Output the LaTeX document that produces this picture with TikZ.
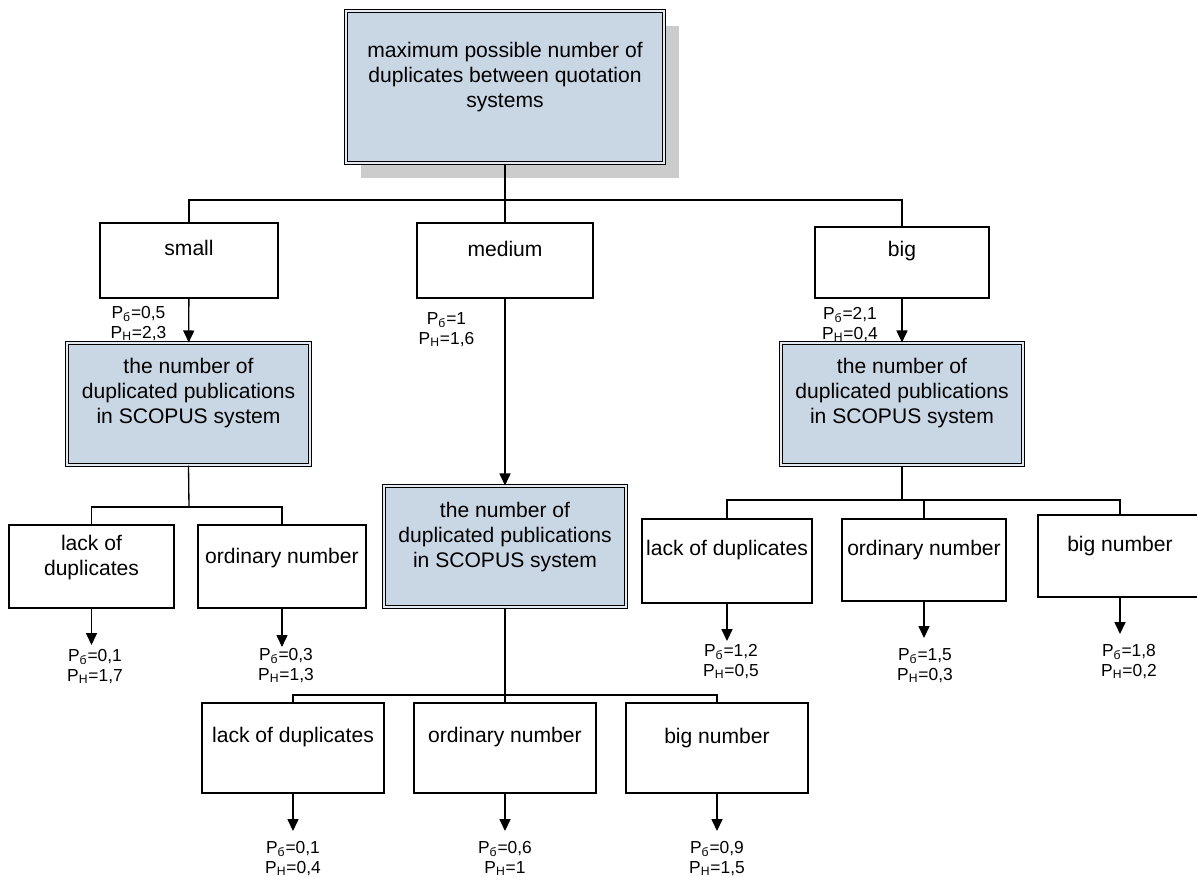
\documentclass[tikz,border=0pt]{standalone}
\usepackage{fontspec}
\setmainfont{Liberation Sans}
\usetikzlibrary{arrows.meta,fit,shadows}
\definecolor{boxblue}{RGB}{201,214,228}
\definecolor{shadowgray}{RGB}{204,204,204}
\newcommand\TreeBox[6]{%
    \node[#1, fit={#3 #4}] (#2) {};
    \node[boxtext] (#2Text) at (#2.north |- 0,#5) {#6};
}
\newcommand\PVal[2]{P\textsubscript{б}=#1\\P\textsubscript{Н}=#2}
\tikzset{
    tree/.style={line width=0.75pt},
    arrow/.style={tree, -{Triangle[length=6.8pt, width=6.3pt]}},
    plainbox/.style={draw, line width=0.8pt, fill=white, inner sep=0pt},
    scopusbox/.style={draw, line width=0.65pt, double=boxblue!50!white, double distance=1.3pt, fill=boxblue, inner sep=0pt},
    boxtext/.style={anchor=north, align=center, inner sep=0pt, font=\fontsize{12}{14.2}\selectfont},
    param/.style={anchor=north, align=center, inner sep=0pt, font=\fontsize{9.9}{11.3}\selectfont},
}
\begin{document}
\begin{tikzpicture}[x=0.02cm, y=-0.02cm]
    \useasboundingbox (0,0) rectangle (1197,876);
    % root
    \TreeBox{scopusbox, drop shadow={shadow xshift=0.3cm, shadow yshift=-0.3cm, fill=shadowgray, opacity=1}}{root}{(346,11)}{(664,163)}{42}{maximum possible number of\\duplicates between quotation\\systems}
    % first level
    \TreeBox{plainbox}{small}{(100,223)}{(278,298)}{240}{small}
    \TreeBox{plainbox}{medium}{(417,223)}{(593,298)}{241}{medium}
    \TreeBox{plainbox}{big}{(815,227)}{(989,298)}{241}{big}
    \TreeBox{scopusbox}{scopusA}{(67,343)}{(310,465)}{358}{the number of\\duplicated publications\\in SCOPUS system}
    \TreeBox{scopusbox}{scopusB}{(384,486)}{(626,607)}{502}{the number of\\duplicated publications\\in SCOPUS system}
    \TreeBox{scopusbox}{scopusC}{(781,343)}{(1023,465)}{358}{the number of\\duplicated publications\\in SCOPUS system}
    % leaves
    \TreeBox{plainbox}{leftLack}{(9,525)}{(174,608)}{535}{lack of\\duplicates}
    \TreeBox{plainbox}{leftOrd}{(198,525)}{(366,608)}{548}{ordinary number}
    \TreeBox{plainbox}{botLack}{(202,703)}{(384,793)}{727}{lack of duplicates}
    \TreeBox{plainbox}{botOrd}{(414,703)}{(596,793)}{727}{ordinary number}
    \TreeBox{plainbox}{botBig}{(626,703)}{(808,793)}{728}{big number}
    \TreeBox{plainbox}{rightLack}{(642,519)}{(812,603)}{540}{lack of duplicates}
    \TreeBox{plainbox}{rightOrd}{(842,519)}{(1006,601)}{540}{ordinary number}
    \TreeBox{plainbox}{rightBig}{(1038,515)}{(1202,597)}{536}{big number}
    % values
    \node[param] (smallP) at (138.5,306) {\PVal{0,5}{2,3}};
    \node[param] (mediumP) at (446.5,312) {\PVal{1}{1,6}};
    \node[param] (bigP) at (850,307) {\PVal{2,1}{0,4}};
    \node[param] (leftLackP) at (95,649) {\PVal{0,1}{1,7}};
    \node[param] (leftOrdP) at (286,648) {\PVal{0,3}{1,3}};
    \node[param] (botLackP) at (293,841) {\PVal{0,1}{0,4}};
    \node[param] (botOrdP) at (505,841) {\PVal{0,6}{1}};
    \node[param] (botBigP) at (717,841) {\PVal{0,9}{1,5}};
    \node[param] (rightLackP) at (731,644) {\PVal{1,2}{0,5}};
    \node[param] (rightOrdP) at (925,648) {\PVal{1,5}{0,3}};
    \node[param] (rightBigP) at (1129,644) {\PVal{1,8}{0,2}};
    % connectors
    \coordinate (busTop) at (505,200);
    \coordinate (busA) at (189,507);
    \coordinate (busB) at (505,695);
    \coordinate (busC) at (902,500);
    \draw[tree] (root.south) -- (medium.north);
    \draw[tree] (small.north) |- (busTop) -| (big.north);
    \draw[tree] (scopusA.south) -- (busA);
    \draw[tree] (leftLack.north) |- (busA) -| (leftOrd.north);
    \draw[tree] (scopusB.south) -- (botOrd.north);
    \draw[tree] (botLack.north) |- (busB) -| (botBig.north);
    \draw[tree] (scopusC.south) -- (busC);
    \draw[tree] (rightLack.north) |- (busC) -| (rightBig.north);
    \draw[tree] (rightOrd.north) -- (rightOrd.north |- busC);
    \draw[arrow] (small) -- (scopusA);
    \draw[arrow] (medium) -- (scopusB);
    \draw[arrow] (big) -- (scopusC);
    \foreach \leaf/\val/\gap in {leftLack/leftLackP/2.3pt, leftOrd/leftOrdP/0.6pt,
        botLack/botLackP/5.7pt, botOrd/botOrdP/5.7pt, botBig/botBigP/5.7pt,
        rightLack/rightLackP/1.7pt, rightOrd/rightOrdP/5.7pt, rightBig/rightBigP/5.7pt}
        \draw[arrow, shorten >=\gap] (\leaf.south) -- (\leaf.south |- \val.north);
\end{tikzpicture}
\end{document}
